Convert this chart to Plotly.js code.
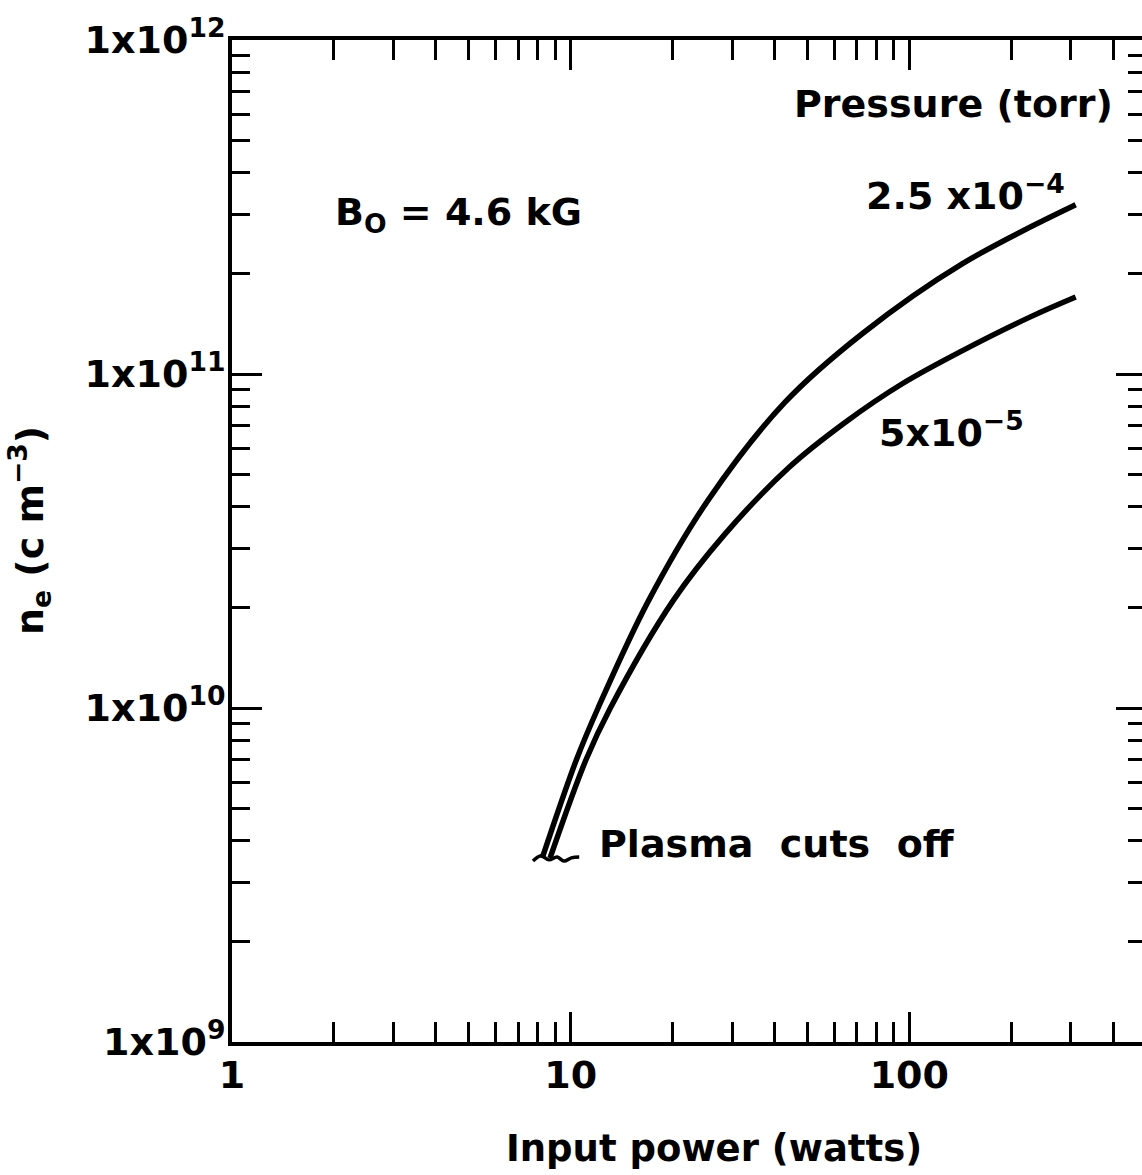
<!DOCTYPE html>
<html>
<head>
<meta charset="utf-8">
<script src="https://cdn.plot.ly/plotly-3.0.1.min.js"></script>
<style>
  html, body { margin: 0; padding: 0; overflow: hidden; background: #fff; }
  #chart { width: 1150px; height: 1175px; }
</style>
</head>
<body>
<div id="chart"></div>
<script>
// Electron density versus input power, B0 = 4.6 kG, two neutral pressures
// 2.5e-4 torr
const powerHigh   = [8.24, 10.4, 12.05, 17.0, 25.5, 42.9, 72.6, 143.6, 310];
const densityHigh = [3.55e9, 7.0e9, 1.0e10, 2.1e10, 4.2e10, 8.22e10, 1.32e11, 2.14e11, 3.21e11];

// 5e-5 torr
const powerLow    = [8.69, 11.1, 13.1, 20.1, 28.5, 44.1, 64.6, 95.3, 143.6, 227, 310];
const densityLow  = [3.55e9, 7.0e9, 1.0e10, 2.1e10, 3.31e10, 5.25e10, 7.16e10, 9.35e10, 1.175e11, 1.48e11, 1.70e11];

// squiggle marking where the plasma cuts off
const cutoffX = [7.74, 8.18, 8.63, 9.12, 9.56, 10.05, 10.6];
const cutoffY = [3.48e9, 3.61e9, 3.51e9, 3.58e9, 3.48e9, 3.56e9, 3.58e9];

// axis ticks
const xMajor = [1, 10, 100];
const xMajorText = ['1', '10', '100'];
const xMinor = [2, 3, 4, 5, 6, 7, 8, 9, 20, 30, 40, 50, 60, 70, 80, 90, 200, 300, 400];
const yMajor = [1e9, 1e10, 1e11, 1e12];
const yMajorText = ['1x10<sup>9</sup>', '1x10<sup>10</sup>', '1x10<sup>11</sup>', '1x10<sup>12</sup>'];
const yMinor = [];
[1e9, 1e10, 1e11].forEach(d => { for (let k = 2; k <= 9; k++) yMinor.push(k * d); });

const FONT = 'DejaVu Sans, sans-serif';
const INK = '#000';

const curveLine = { color: INK, width: 5.5, shape: 'spline', smoothing: 1.0, simplify: false };

const traces = [
  { x: powerHigh, y: densityHigh, mode: 'lines', line: curveLine, hoverinfo: 'skip' },
  { x: powerLow,  y: densityLow,  mode: 'lines', line: curveLine, hoverinfo: 'skip' },
  { x: cutoffX, y: cutoffY, mode: 'lines',
    line: { color: INK, width: 3.5, shape: 'spline', smoothing: 1.0 }, hoverinfo: 'skip' }
];

const tickFont = { family: FONT, size: 38, color: INK, weight: 'bold' };
const textFont = { family: FONT, size: 38, color: INK, weight: 'bold' };

const axisCommon = {
  showline: true, linecolor: INK, linewidth: 4,
  mirror: 'allticks', showgrid: false, zeroline: false,
  ticks: 'inside', ticklen: 30, tickwidth: 3, tickcolor: INK,
  tickfont: tickFont,
  tickmode: 'array'
};

const layout = {
  width: 1150, height: 1175,
  margin: { l: 232, r: 4, t: 40, b: 133 },
  paper_bgcolor: '#fff', plot_bgcolor: '#fff',
  showlegend: false,
  font: { family: FONT, color: INK, size: 38 },
  xaxis: Object.assign({}, axisCommon, {
    type: 'log', range: [0, Math.log10(500)],
    tickvals: xMajor, ticktext: xMajorText,
    ticklabelstandoff: -4,
    minor: { tickmode: 'array', tickvals: xMinor, ticks: 'inside', ticklen: 20, tickwidth: 3, tickcolor: INK, showgrid: false }
  }),
  yaxis: Object.assign({}, axisCommon, {
    type: 'log', range: [9, 12],
    tickvals: yMajor, ticktext: yMajorText,
    ticklabelstandoff: -5,
    minor: { tickmode: 'array', tickvals: yMinor, ticks: 'inside', ticklen: 18, tickwidth: 3, tickcolor: INK, showgrid: false }
  }),
  annotations: [
    { text: 'Pressure (torr)', xref: 'paper', yref: 'paper', x: 0.966, y: 0.936,
      xanchor: 'right', yanchor: 'middle', showarrow: false, font: textFont },
    { text: 'B<sub>O</sub> = 4.6 kG', xref: 'paper', yref: 'paper', x: 0.11, y: 0.826,
      xanchor: 'left', yanchor: 'middle', showarrow: false, font: textFont },
    { text: '2.5 x10<sup>\u22124</sup>', xref: 'paper', yref: 'paper', x: 0.692, y: 0.847,
      xanchor: 'left', yanchor: 'middle', showarrow: false, font: textFont },
    { text: '5x10<sup>\u22125</sup>', xref: 'paper', yref: 'paper', x: 0.706, y: 0.611,
      xanchor: 'left', yanchor: 'middle', showarrow: false, font: textFont },
    { text: 'Plasma  cuts  off', xref: 'paper', yref: 'paper', x: 0.399, y: 0.198,
      xanchor: 'left', yanchor: 'middle', showarrow: false, font: textFont },
    { text: 'Input power (watts)', xref: 'paper', yref: 'paper', x: 0.527, y: -0.106,
      xanchor: 'center', yanchor: 'middle', showarrow: false, font: { family: FONT, size: 37, color: INK, weight: 'bold' } },
    { text: 'n<sub>e</sub> (c m<sup>\u22123</sup>)', xref: 'paper', yref: 'paper', x: -0.221, y: 0.51,
      xanchor: 'center', yanchor: 'middle', textangle: -90, showarrow: false, font: textFont }
  ]
};

Plotly.newPlot('chart', traces, layout, { staticPlot: true, displayModeBar: false });
</script>
</body>
</html>
